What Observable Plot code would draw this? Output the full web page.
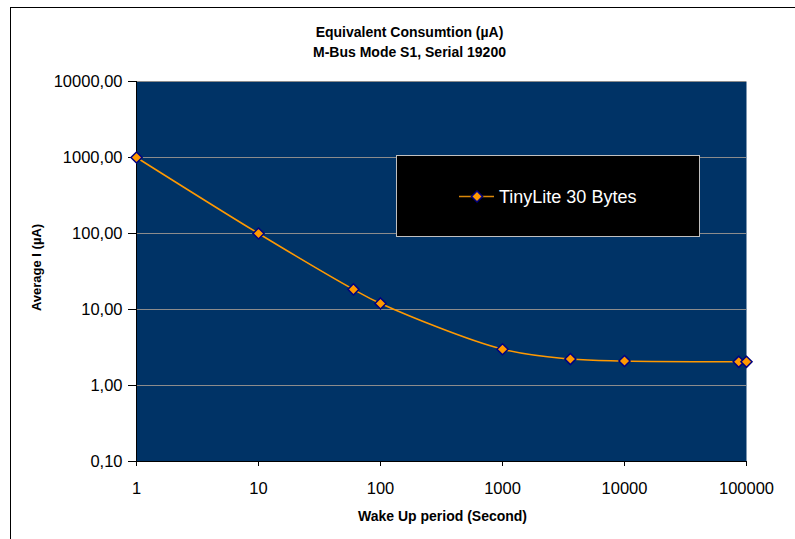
<!DOCTYPE html>
<html>
<head>
<meta charset="utf-8">
<script src="https://cdn.jsdelivr.net/npm/d3@7"></script>
<script src="https://cdn.jsdelivr.net/npm/@observablehq/plot@0.6"></script>
<style>
  html, body { margin: 0; padding: 0; background: #fff; }
  #wrap { position: relative; width: 795px; height: 539px; overflow: hidden; font-family: "Liberation Sans", Arial, sans-serif; }
  #border { position: absolute; left: 10px; top: 7px; width: 900px; height: 700px; border-left: 1.3px solid #000; border-top: 1.3px solid #000; box-sizing: border-box; pointer-events: none; }
  #legend { position: absolute; left: 396px; top: 155px; width: 304px; height: 82px; background: #000; border: 1.5px solid #c0c0c0; box-sizing: border-box; }
</style>
</head>
<body>
<div id="wrap"></div>
<script>
// Data
const wakePeriods = [1, 10, 60, 100, 1000, 3600, 10000, 86400, 100000];
const avgCurrent  = [1000, 100, 18.4, 12, 3.0, 2.23, 2.1, 2.05, 2.05];
const seriesName = "TinyLite 30 Bytes";
const xTicks = [1, 10, 100, 1000, 10000, 100000];
const yTicks = [0.1, 1, 10, 100, 1000, 10000];
const titleLines = ["Equivalent Consumtion (µA)", "M-Bus Mode S1, Serial 19200"];
const xLabel = "Wake Up period (Second)";
const yLabel = "Average I (µA)";

const data = wakePeriods.map((x, i) => ({x, y: avgCurrent[i]}));
const fmt = v => v.toFixed(2).replace(".", ",");

const chart = Plot.plot({
  width: 795,
  height: 539,
  marginLeft: 136,
  marginRight: 49,
  marginTop: 81,
  marginBottom: 78,
  style: {fontFamily: '"Liberation Sans", Arial, sans-serif', background: "transparent", color: "#000"},
  x: {type: "log", domain: [1, 100000]},
  y: {type: "log", domain: [0.1, 10000]},
  marks: [
    Plot.frame({fill: "#003366", stroke: null}),
    Plot.ruleY(yTicks.filter(v => v > 0.1), {stroke: "#8c8c8c", strokeWidth: 1}),
    Plot.ruleX([1], {stroke: "#000", strokeWidth: 1}),
    Plot.ruleY([0.1], {stroke: "#000", strokeWidth: 1}),
    Plot.axisY({ticks: yTicks, tickFormat: fmt, tickSize: 8, tickPadding: 6, fontSize: 16.5, label: null}),
    Plot.axisX({ticks: xTicks, tickFormat: d => String(d), tickSize: 5, tickPadding: 16, fontSize: 16.5, label: null}),
    Plot.line(data, {x: "x", y: "y", stroke: "#ff9900", strokeWidth: 1.5, curve: "catmull-rom"}),
    Plot.dot(data, {x: "x", y: "y", symbol: "diamond2", r: 5, fill: "#ff9900", stroke: "#000080", strokeWidth: 1.5}),
    Plot.text([titleLines[0]], {frameAnchor: "top", dx: -32, dy: -45, lineAnchor: "bottom", fontSize: 14, fontWeight: "bold"}),
    Plot.text([titleLines[1]], {frameAnchor: "top", dx: -32, dy: -25, lineAnchor: "bottom", fontSize: 14, fontWeight: "bold"}),
    Plot.text([xLabel], {frameAnchor: "bottom", dx: 1, dy: 59, lineAnchor: "bottom", fontSize: 14, fontWeight: "bold"}),
    Plot.text([yLabel], {frameAnchor: "left", dx: -100, dy: -4, rotate: -90, textAnchor: "middle", lineAnchor: "middle", fontSize: 13, fontWeight: "bold", letterSpacing: "0.6px"})
  ]
});

const wrap = document.getElementById("wrap");
wrap.appendChild(chart);
chart.style.position = "absolute";
chart.style.left = "0";
chart.style.top = "0";

const border = document.createElement("div");
border.id = "border";
wrap.appendChild(border);

const legend = document.createElement("div");
legend.id = "legend";
legend.innerHTML = `<svg width="301" height="79" style="position:absolute;left:0;top:0">
  <line x1="62" x2="97" y1="40.5" y2="40.5" stroke="#d9870a" stroke-width="1.5"/>
  <path d="M80,35 L85.5,40.5 L80,46 L74.5,40.5 Z" fill="#ff9900" stroke="#000080" stroke-width="1.5"/>
  <text x="102" y="46.5" fill="#fff" font-size="18" font-family="Liberation Sans, Arial, sans-serif"></text>
</svg>`;
legend.querySelector("text").textContent = seriesName;
wrap.appendChild(legend);
</script>
</body>
</html>
